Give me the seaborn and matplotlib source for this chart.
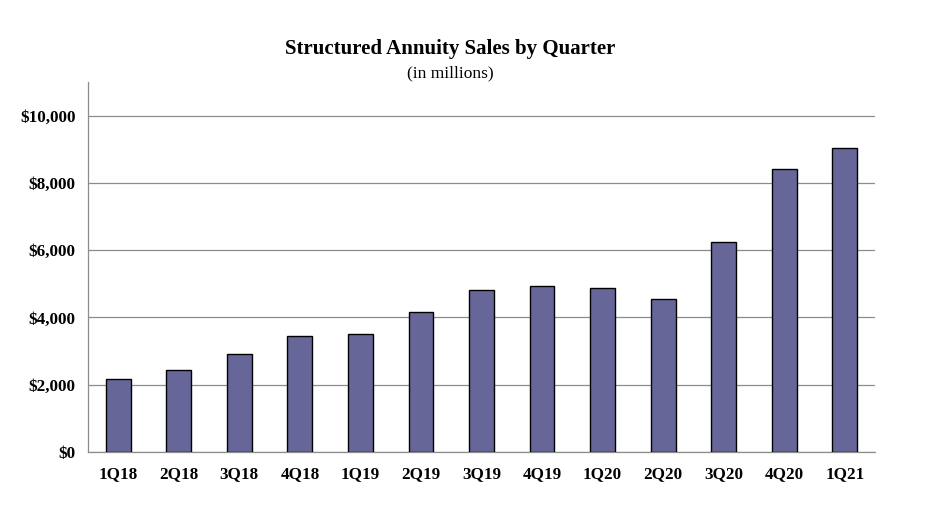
import seaborn as sns
import matplotlib.pyplot as plt
import matplotlib.ticker as mticker
import pandas as pd

# Data (in millions)
quarters = ['1Q18', '2Q18', '3Q18', '4Q18', '1Q19', '2Q19', '3Q19', '4Q19',
            '1Q20', '2Q20', '3Q20', '4Q20', '1Q21']
sales = [2180, 2447, 2922, 3457, 3516, 4158, 4811, 4930, 4871, 4544, 6249, 8417, 9040]

df = pd.DataFrame({'Quarter': quarters, 'Sales': sales})

sns.set_style('white')
plt.rcParams['font.family'] = ['Liberation Serif', 'DejaVu Serif']
plt.rcParams['text.color'] = 'black'
plt.rcParams['xtick.color'] = 'black'
plt.rcParams['ytick.color'] = 'black'

fig = plt.figure(figsize=(9.34, 5.14), dpi=100)
ax = fig.add_axes([88 / 934, 1 - 452 / 514, (875 - 88) / 934, (452 - 82) / 514])

sns.barplot(data=df, x='Quarter', y='Sales', color='#666699', edgecolor='black',
            linewidth=1.0, width=0.41, saturation=1, ax=ax, zorder=3)

ax.set_ylim(0, 11000)
ax.set_xlim(-0.5, len(quarters) - 0.5)
ax.set_yticks(range(0, 11000, 2000))
ax.yaxis.set_major_formatter(mticker.FuncFormatter(lambda v, p: f'${v:,.0f}'))
ax.yaxis.grid(True, color='#8c8c8c', linewidth=0.9, zorder=0)
ax.set_axisbelow(True)

for side in ['top', 'right']:
    ax.spines[side].set_visible(False)
for side in ['left', 'bottom']:
    ax.spines[side].set_color('#8c8c8c')
    ax.spines[side].set_linewidth(0.9)

# ticks between categories on x
ax.set_xticks([i - 0.5 for i in range(len(quarters) + 1)], minor=True)
ax.tick_params(axis='x', which='minor', length=5, color='#8c8c8c', width=0.9, direction='out')
ax.tick_params(axis='x', which='major', length=0, pad=10, labelsize=12.3, labelcolor='black')
ax.tick_params(axis='y', length=0, pad=9, labelsize=12.3, labelcolor='black')
for lbl in ax.get_xticklabels() + ax.get_yticklabels():
    lbl.set_fontweight('bold')

ax.set_xlabel('')
ax.set_ylabel('')

fig.text(450 / 934, 1 - 49 / 514, 'Structured Annuity Sales by Quarter',
         ha='center', va='center', fontsize=15, fontweight='bold', color='black')
fig.text(450 / 934, 1 - 73 / 514, '(in millions)', ha='center', va='center',
         fontsize=12.5, color='black')

fig.savefig('out.png', dpi=100)
